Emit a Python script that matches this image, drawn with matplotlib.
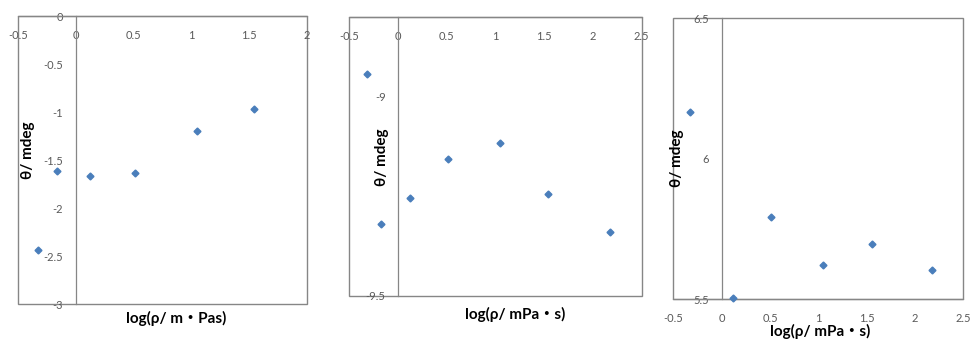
import matplotlib.pyplot as plt
from matplotlib.patches import Rectangle
from matplotlib.ticker import FuncFormatter

# === DATA ===
x1 = [-0.33, -0.16, 0.12, 0.51, 1.05, 1.54]
y1 = [-2.44, -1.61, -1.665, -1.64, -1.195, -0.97]

x2 = [-0.32, -0.17, 0.12, 0.51, 1.05, 1.54, 2.17]
y2 = [-8.943, -9.32, -9.254, -9.156, -9.118, -9.246, -9.341]

x3 = [-0.33, 0.12, 0.51, 1.05, 1.55, 2.18]
y3 = [6.168, 5.506, 5.792, 5.622, 5.696, 5.603]

xlab1 = "log(ρ/ m・Pas)"
xlab2 = "log(ρ/ mPa・s)"
ylab = "θ/ mdeg"

# === STYLE ===
plt.rcParams['font.family'] = ['Lato', 'Noto Sans CJK JP', 'DejaVu Sans']
plt.rcParams['axes.unicode_minus'] = False
MARKER_COLOR = "#4A7EBB"
LINE_COLOR = "#868686"
TICK_COLOR = "#595959"

fmt = FuncFormatter(lambda v, pos: f"{v:g}")

fig = plt.figure(figsize=(9.72, 3.42), dpi=100)


def make_panel(rect, xs, ys, xlim, ylim, xticks, yticks, xcross, xlabel,
               ylabel_xy, xlabel_xy):
    ax = fig.add_axes(rect)
    ax.plot(xs, ys, linestyle="none", marker="D", markersize=3.5,
            color=MARKER_COLOR, clip_on=False, zorder=5)
    ax.set_xlim(*xlim)
    ax.set_ylim(*ylim)
    ax.set_xticks(xticks)
    ax.set_yticks(yticks)
    ax.xaxis.set_major_formatter(fmt)
    ax.yaxis.set_major_formatter(fmt)

    # axes cross at x=0 and at the given y value, like the spreadsheet chart
    ax.spines['left'].set_position(('data', 0))
    ax.spines['bottom'].set_position(('data', xcross))
    ax.spines['top'].set_visible(False)
    ax.spines['right'].set_visible(False)
    for s in ('left', 'bottom'):
        ax.spines[s].set_color(LINE_COLOR)
        ax.spines[s].set_linewidth(0.9)
    # outer frame
    ax.add_patch(Rectangle((0, 0), 1, 1, transform=ax.transAxes, fill=False,
                           edgecolor=LINE_COLOR, linewidth=1.0, clip_on=False))

    ax.tick_params(length=0, labelsize=8, labelcolor=TICK_COLOR)
    ax.tick_params(axis='x', pad=10)
    ax.tick_params(axis='y', pad=9)

    ax.set_ylabel(ylab, fontsize=11, fontweight="bold")
    ax.yaxis.set_label_coords(*ylabel_xy)
    ax.yaxis.label.set(va="center", ha="center")
    ax.set_xlabel(xlabel, fontsize=11, fontweight="bold")
    ax.xaxis.set_label_coords(*xlabel_xy)
    ax.xaxis.label.set(va="center", ha="center")
    return ax


make_panel([0.0185, 0.1111, 0.2973, 0.842], x1, y1, (-0.5, 2), (-3, 0),
           [-0.5, 0, 0.5, 1, 1.5, 2], [-3, -2.5, -2, -1.5, -1, -0.5, 0],
           0, xlab1, (0.035, 0.535), (0.549, -0.049))

make_panel([0.3594, 0.1354, 0.3008, 0.8158], x2, y2, (-0.5, 2.5), (-9.5, -8.8),
           [-0.5, 0, 0.5, 1, 1.5, 2, 2.5], [-9.5, -9],
           -8.8, xlab2, (0.111, 0.497), (0.567, -0.069))

make_panel([0.6927, 0.1249, 0.2984, 0.8216], x3, y3, (-0.5, 2.5), (5.5, 6.5),
           [-0.5, 0, 0.5, 1, 1.5, 2, 2.5], [5.5, 6, 6.5],
           5.5, xlab2, (0.012, 0.503), (0.506, -0.115))

fig.savefig("out.png", dpi=100)
